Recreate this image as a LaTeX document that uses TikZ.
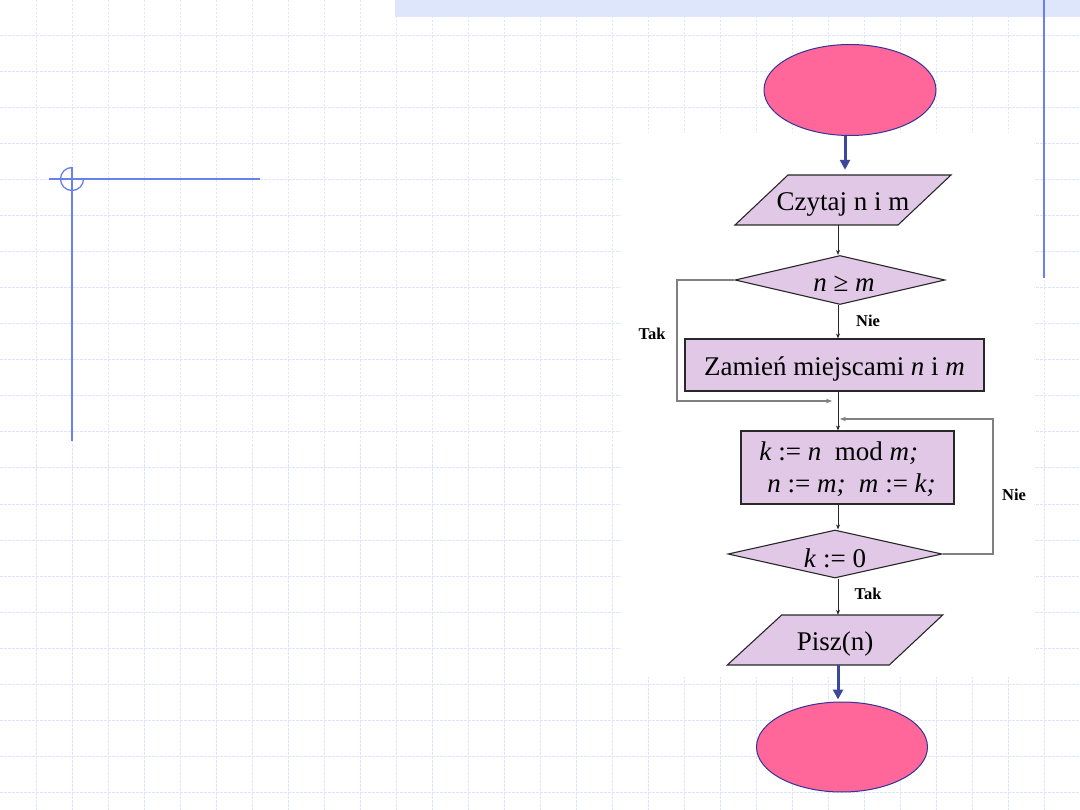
\documentclass[tikz,border=0pt]{standalone}
\usepackage{fontspec}
\setmainfont{Liberation Serif}
\usetikzlibrary{shapes.geometric,arrows.meta,calc}
\definecolor{gridc}{RGB}{222,229,250}
\definecolor{deco}{RGB}{104,128,240}
\definecolor{barc}{RGB}{222,230,251}
\definecolor{pinkc}{RGB}{255,102,153}
\definecolor{navy}{RGB}{51,51,153}
\definecolor{arrowc}{RGB}{60,72,154}
\definecolor{lav}{RGB}{224,200,230}
\definecolor{edgec}{RGB}{40,40,40}
\definecolor{loopc}{RGB}{128,128,128}
\newcommand{\dn}[1]{\raisebox{-4pt}[\height][\depth]{#1}}
\begin{document}
\begin{tikzpicture}[x=1pt,y=-1pt,
  gridline/.style={gridc,line width=1pt,dash pattern=on 2.5pt off 1.5pt},
  decoline/.style={deco,line width=2pt},
  term/.style={ellipse,draw=navy,line width=1pt,fill=pinkc,minimum width=172pt,minimum height=91pt,inner sep=0pt},
  procbox/.style={rectangle,draw=edgec,line width=1.1pt,fill=lav,inner sep=2pt,font=\fontsize{27}{32}\selectfont},
  decbox/.style={diamond,draw=edgec,line width=1.1pt,fill=lav,inner sep=0pt,aspect=4.3,font=\fontsize{27}{32}\selectfont},
  iotext/.style={inner sep=0pt,minimum height=50pt,font=\fontsize{27}{32}\selectfont},
  ioshape/.style={draw=edgec,line width=1.1pt,fill=lav},
  bigarrow/.style={arrowc,line width=3pt,-{Triangle[width=10pt,length=10pt]}},
  flow/.style={edgec,line width=0.9pt,-{Stealth[length=5pt,width=4pt]}},
  loopline/.style={loopc,line width=1.2pt,-{Stealth[length=6pt,width=4.5pt]}},
  lbl/.style={font=\fontsize{16.5}{19}\selectfont\bfseries,inner sep=0pt}
]
\useasboundingbox (0,0) rectangle (1080,810);
% background
\fill[white] (0,0) rectangle (1080,810);
\foreach \i in {1,...,29} \draw[gridline] (36*\i,0) -- (36*\i,810);
\foreach \j in {1,...,22} \draw[gridline] (0,36*\j) -- (1080,36*\j);
\fill[barc] (395,0) rectangle (1080,17);
\fill[white] (621,133) rectangle (1034,677);
\draw[decoline] (1044,0) -- (1044,278);
\draw[decoline] (49,179) -- (260,179);
\draw[decoline] (72,167.5) -- (72,441);
\draw[deco,line width=1.3pt] (83.5,179) arc[start angle=0,end angle=270,radius=11.5];
% flowchart
\coordinate (ax) at (838,0);
\coordinate (axtop) at (845,0);
\coordinate (joinA) at (838,401);
\coordinate (joinB) at (838,419);
\node[term] (start) at (850,90) {};
\path[ioshape] (735,225) -- (898,225) -- (951,175) -- (788,175) -- cycle;
\node[iotext] (read) at (843,200) {\dn{Czytaj n i m}};
\node[decbox,minimum width=210pt,minimum height=49pt] (d1) at (840,280) {\dn{\hspace{8pt}\textit{n} ≥ \textit{m}}};
\node[procbox,minimum width=299pt,minimum height=52pt] (swap) at (834.5,365) {\dn{Zamień miejscami \textit{n} i \textit{m}}};
\node[procbox,minimum width=213pt,minimum height=73pt,align=left] (modbox) at (847.5,467.5) {\raisebox{-2pt}[\height][\depth]{\textit{k} := \textit{n}\ \ mod \textit{m;}}\\\raisebox{-2pt}[\height][\depth]{\hspace{8pt}\textit{n} := \textit{m;}\ \ \textit{m} := \textit{k;}}};
\node[decbox,minimum width=214pt,minimum height=48pt] (d2) at (835,554) {\dn{\textit{k} := 0}};
\path[ioshape] (727.3,665) -- (889.3,665) -- (942.7,615) -- (781.7,615) -- cycle;
\node[iotext] (write) at (835,640) {\dn{Pisz(n)}};
\node[term,minimum width=171pt,minimum height=90pt] (stop) at (842,747) {};
% connectors
\draw[bigarrow] (axtop |- start.south) -- ($(axtop |- read.north)+(0,-5)$);
\draw[flow] (ax |- read.south) -- (ax |- d1.north);
\draw[flow] (ax |- d1.south) -- (ax |- swap.north);
\draw[flow] (ax |- swap.south) -- (ax |- modbox.north);
\draw[flow] (ax |- modbox.south) -- (ax |- d2.north);
\draw[flow] (ax |- d2.south) -- (ax |- write.north);
\draw[bigarrow] (ax |- write.south) -- ($(ax |- stop.north)+(0,-2)$);
\draw[loopline] (d1.west) -- (677,280) -- (677,401) -- ([xshift=-6pt]joinA);
\draw[loopline] (d2.east) -- (993,554) -- (993,419) -- ([xshift=2pt]joinB);
% labels
\node[lbl] (tak1) at (652,334) {Tak};
\node[lbl] (nie1) at (868,321) {Nie};
\node[lbl] (nie2) at (1014,495) {Nie};
\node[lbl] (tak2) at (868,594) {Tak};
\end{tikzpicture}
\end{document}
